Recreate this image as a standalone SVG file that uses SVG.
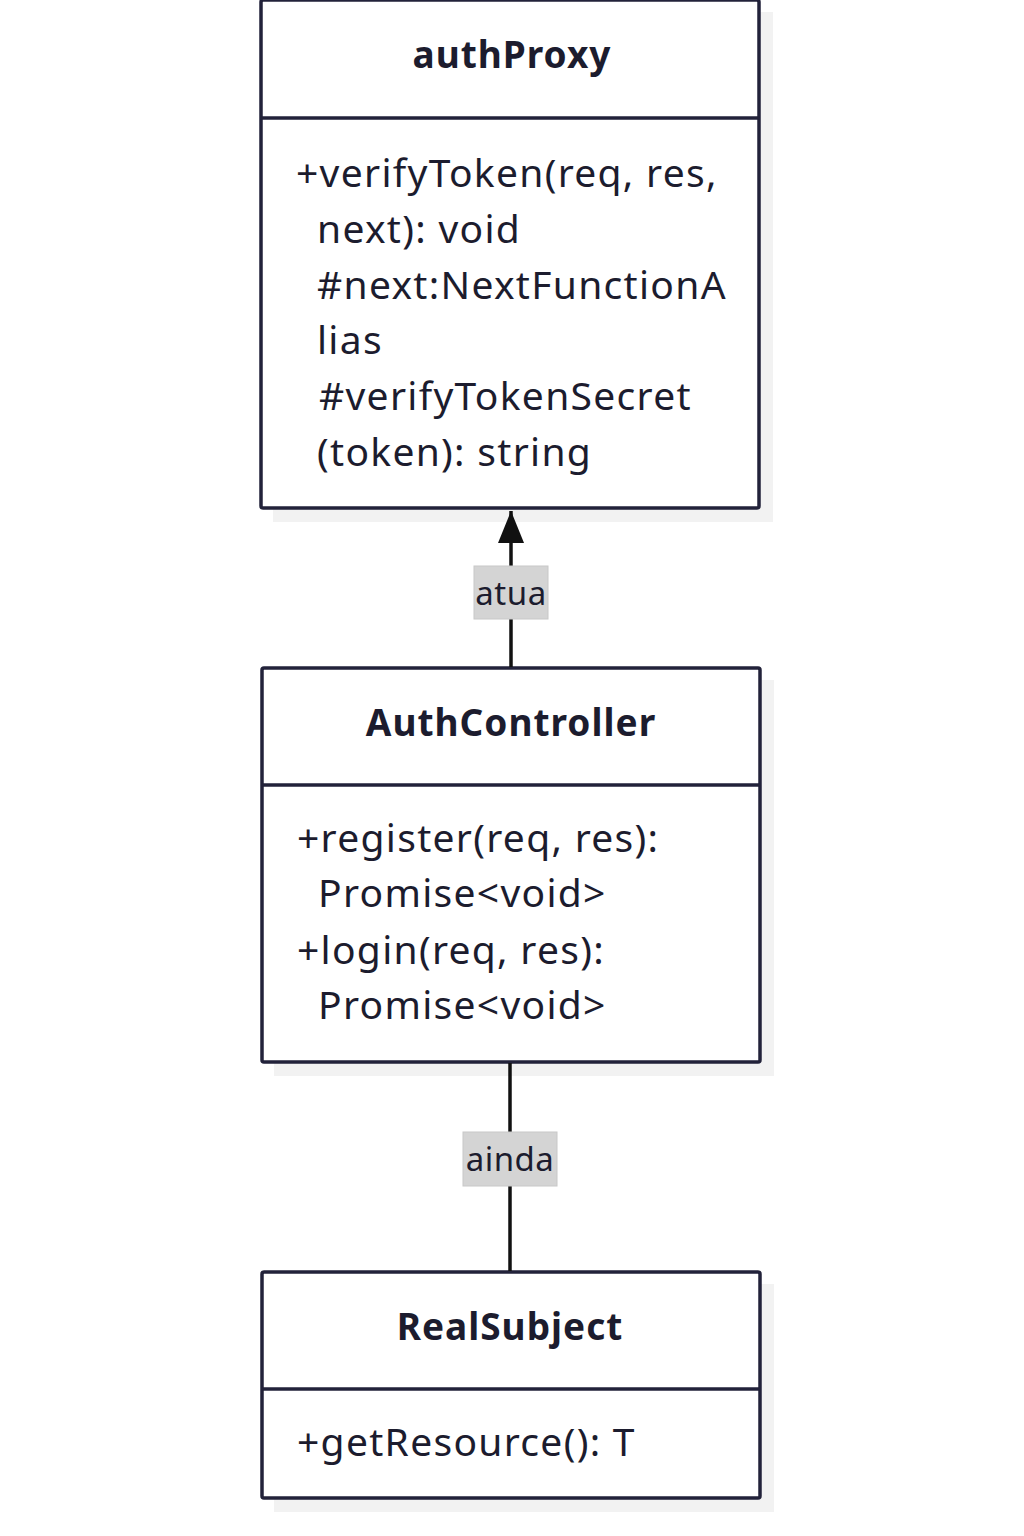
<svg xmlns="http://www.w3.org/2000/svg" width="1024" height="1536" viewBox="0 0 1024 1536">
<style>
.box{fill:#ffffff;stroke:#22223a;stroke-width:3.5}
.shadow{fill:#f2f2f2}
.div{stroke:#22223a;stroke-width:3.5}
.title{font-family:"Noto Sans","Open Sans",sans-serif;font-weight:bold;font-size:37px;letter-spacing:1px;fill:#1c1c2e;text-anchor:middle}
.mem{font-family:"Noto Sans","Open Sans",sans-serif;font-size:39px;letter-spacing:1.3px;fill:#1c1c2e}
.lbl{font-family:"Noto Sans","Open Sans",sans-serif;font-size:33px;letter-spacing:0.5px;fill:#1c1c2e;text-anchor:middle}
.lblbg{fill:#d4d4d4;stroke:#c8c8c8;stroke-width:1}
.edge{stroke:#111111;stroke-width:3.5;fill:none}
</style>
<defs>
<marker id="arr" markerWidth="26" markerHeight="32" refX="13" refY="0" orient="0" markerUnits="userSpaceOnUse">
<path d="M0,32 L13,0 L26,32 Z" fill="#111111"/>
</marker>
</defs>
<rect width="1024" height="1536" fill="#ffffff"/>
<g id="authProxy">
<rect class="shadow" x="273" y="12" width="500" height="510"/>
<rect class="box" x="261" y="0" width="498" height="508" rx="2"/>
<line class="div" x1="261" y1="118" x2="759" y2="118"/>
<text class="title" x="512" y="68">authProxy</text>
<text class="mem" x="296" y="187">+verifyToken(req, res,</text>
<text class="mem" x="317" y="243">next): void</text>
<text class="mem" x="317" y="299">#next:NextFunctionA</text>
<text class="mem" x="317" y="354">lias</text>
<text class="mem" x="319" y="410">#verifyTokenSecret</text>
<text class="mem" x="317" y="466">(token): string</text>
</g>
<g id="AuthController">
<rect class="shadow" x="274" y="680" width="500" height="396"/>
<rect class="box" x="262" y="668" width="498" height="394" rx="2"/>
<line class="div" x1="262" y1="785" x2="760" y2="785"/>
<text class="title" x="511" y="736">AuthController</text>
<text class="mem" x="297" y="852">+register(req, res):</text>
<text class="mem" x="318" y="907">Promise&lt;void&gt;</text>
<text class="mem" x="297" y="964">+login(req, res):</text>
<text class="mem" x="318" y="1019">Promise&lt;void&gt;</text>
</g>
<g id="RealSubject">
<rect class="shadow" x="274" y="1284" width="500" height="228"/>
<rect class="box" x="262" y="1272" width="498" height="226" rx="2"/>
<line class="div" x1="262" y1="1389" x2="760" y2="1389"/>
<text class="title" x="510" y="1340">RealSubject</text>
<text class="mem" x="297" y="1456">+getResource(): T</text>
</g>
<g id="edges">
<line class="edge" x1="511" y1="667" x2="511" y2="511" marker-end="url(#arr)"/>
<rect class="lblbg" x="474" y="566" width="74" height="53"/>
<text class="lbl" x="511" y="605">atua</text>
<line class="edge" x1="510" y1="1063" x2="510" y2="1271"/>
<rect class="lblbg" x="463" y="1132" width="94" height="54"/>
<text class="lbl" x="510" y="1171">ainda</text>
</g>
</svg>
